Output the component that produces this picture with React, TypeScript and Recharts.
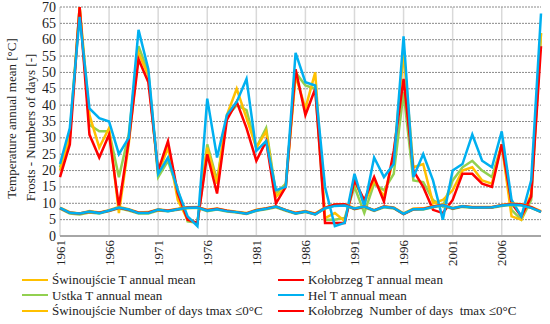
import React from 'react';
import { Line, LineChart, ReferenceLine, XAxis, YAxis } from 'recharts';

const years = [
  1961, 1962, 1963, 1964, 1965, 1966, 1967, 1968, 1969, 1970,
  1971, 1972, 1973, 1974, 1975, 1976, 1977, 1978, 1979, 1980,
  1981, 1982, 1983, 1984, 1985, 1986, 1987, 1988, 1989, 1990,
  1991, 1992, 1993, 1994, 1995, 1996, 1997, 1998, 1999, 2000,
  2001, 2002, 2003, 2004, 2005, 2006, 2007, 2008, 2009, 2010,
];

const tickYears = [1961, 1966, 1971, 1976, 1981, 1986, 1991, 1996, 2001, 2006];
const yTicks = [0, 5, 10, 15, 20, 25, 30, 35, 40, 45, 50, 55, 60, 65, 70];

// annual mean temperature
const swiT = [
  8.7, 7.3, 6.9, 7.6, 7.2, 7.9, 8.9, 8.2, 7.2, 7.3,
  8.2, 7.8, 8.3, 8.8, 8.9, 8.0, 8.4, 7.8, 7.4, 7.0,
  8.0, 8.5, 9.1, 8.0, 7.1, 7.6, 6.9, 8.7, 9.6, 9.7,
  8.5, 9.1, 7.9, 9.1, 8.7, 6.9, 8.4, 8.4, 9.1, 9.6,
  8.6, 9.2, 8.9, 8.9, 8.9, 9.5, 9.9, 9.7, 8.9, 7.6,
];
const kolT = [
  8.5, 7.1, 6.9, 7.4, 7.1, 7.7, 8.6, 8.0, 7.1, 7.2,
  8.0, 7.7, 8.2, 8.7, 8.8, 7.9, 8.3, 7.7, 7.3, 6.9,
  7.9, 8.4, 9.0, 7.9, 7.0, 7.5, 6.7, 8.6, 9.6, 9.7,
  8.3, 9.0, 7.8, 9.0, 8.6, 6.7, 8.2, 8.3, 9.0, 9.5,
  8.4, 9.1, 8.8, 8.8, 8.8, 9.4, 9.8, 9.6, 8.8, 7.4,
];
const ustT = [
  8.4, 6.9, 6.6, 7.2, 6.9, 7.6, 8.5, 7.8, 6.9, 6.9,
  7.8, 7.6, 8.0, 8.5, 8.6, 7.6, 8.1, 7.5, 7.2, 6.7,
  7.7, 8.2, 8.8, 7.7, 6.8, 7.3, 6.6, 8.4, 9.3, 9.4,
  8.2, 8.8, 7.7, 8.8, 8.4, 6.7, 8.1, 8.1, 8.8, 9.3,
  8.3, 8.9, 8.6, 8.6, 8.6, 9.2, 9.5, 9.4, 8.6, 7.3,
];
const helT = [
  8.6, 7.1, 6.9, 7.5, 7.0, 7.8, 8.7, 8.1, 7.0, 7.0,
  8.1, 7.6, 8.2, 8.6, 8.7, 7.7, 8.2, 7.6, 7.3, 6.8,
  7.8, 8.3, 9.0, 7.9, 6.9, 7.5, 6.6, 8.5, 9.2, 9.3,
  8.4, 9.0, 7.8, 8.9, 8.6, 6.8, 8.2, 8.2, 8.9, 9.4,
  8.5, 9.1, 8.7, 8.7, 8.8, 9.3, 9.6, 9.4, 8.6, 7.4,
];

// number of days with tmax <= 0 C
const swiFrost = [
  20, 30, 70, 37, 27, 33, 7, 28, 56, 49,
  19, 27, 11, 5, 4, 27, 16, 37, 45, 36,
  27, 32, 12, 15, 49, 39, 50, 5.5, 7, 4.5,
  17, 10, 17, 12, 24, 56, 21, 22, 10, 11,
  14, 20, 21, 17, 16, 28, 6, 5, 13, 62,
];
const kolFrost = [
  18, 28, 70, 31, 24, 31, 9, 29, 54, 47,
  20, 29, 13, 5, 4, 25, 13, 35.5, 41, 33,
  23, 29, 10, 15, 51, 37, 45, 4, 4, 4,
  17, 11, 18, 10.5, 26, 48, 20, 15, 8, 7,
  11, 19, 19, 16, 15, 28, 10, 6, 12, 58,
];
const ustFrost = [
  21, 31, 70, 34, 32, 32, 18, 31, 58, 50,
  18, 23, 14, 4.5, 4, 28, 17, 36.5, 40, 38.5,
  27, 33, 13, 16, 50, 46, 45, 5, 5, 5.5,
  15, 7, 16, 14, 19, 44, 17, 16.5, 11, 9,
  17, 21, 23, 20, 18, 28, 8, 5, 11, 62,
];
const helFrost = [
  22, 33, 67, 39, 36, 35, 25, 30, 63, 51,
  19, 24, 14, 6, 3, 42, 24, 37, 41, 48,
  26, 29, 14, 15, 56, 47, 46, 15, 3, 4,
  19, 9, 24, 18, 22, 61, 18, 25, 17, 5,
  20, 22, 31, 23, 21, 32, 11, 6, 17, 68,
];

const ORANGE = '#FFC000';
const RED = '#FF0000';
const GREEN = '#92D050';
const BLUE = '#00B0F0';

const data = years.map((year, i) => ({
  year,
  swiT: swiT[i],
  kolT: kolT[i],
  ustT: ustT[i],
  helT: helT[i],
  swiFrost: swiFrost[i],
  kolFrost: kolFrost[i],
  ustFrost: ustFrost[i],
  helFrost: helFrost[i],
}));

const series = [
  { key: 'ustFrost', color: GREEN },
  { key: 'swiFrost', color: ORANGE },
  { key: 'kolFrost', color: RED },
  { key: 'helFrost', color: BLUE },
  { key: 'ustT', color: GREEN },
  { key: 'swiT', color: ORANGE },
  { key: 'kolT', color: RED },
  { key: 'helT', color: BLUE },
];

const legendItems = [
  { name: 'Świnoujście T annual mean', color: ORANGE },
  { name: 'Kołobrzeg T annual mean', color: RED },
  { name: 'Ustka T annual mean', color: GREEN },
  { name: 'Hel T annual mean', color: BLUE },
  { name: 'Świnoujście Number of days tmax ≤0°C', color: ORANGE },
  { name: 'Kołobrzeg  Number of days  tmax ≤0°C', color: RED },
];

const FONT = 'Liberation Serif';

// year label under a vertical grid line
function XLabel({ viewBox, value }: any) {
  const x = viewBox.x;
  const y = viewBox.y + viewBox.height + 4;
  return (
    <text
      x={x}
      y={y}
      transform={`rotate(-90 ${x} ${y})`}
      textAnchor="end"
      dy={4.5}
      fill="#222"
      fontFamily={FONT}
      fontSize={13}
    >
      {value}
    </text>
  );
}

// value label left of a horizontal grid line
function YTickLabel({ viewBox, value }: any) {
  return (
    <text x={viewBox.x - 4} y={viewBox.y} dy={4.5} textAnchor="end" fill="#222" fontFamily={FONT} fontSize={14}>
      {value}
    </text>
  );
}

function YTitle({ viewBox }: any) {
  const cy = viewBox.y + viewBox.height / 2;
  return (
    <g fontFamily={FONT} fontSize={13} fill="#222">
      <text x={11} y={cy - 3} transform={`rotate(-90 11 ${cy - 3})`} textAnchor="middle" dominantBaseline="central">
        Temperature annual mean [°C]
      </text>
      <text x={30} y={cy + 6} transform={`rotate(-90 30 ${cy + 6})`} textAnchor="middle" dominantBaseline="central">
        Frosts - Numbers of days [-]
      </text>
    </g>
  );
}

function Legend6() {
  return (
    <div
      style={{
        position: 'absolute',
        left: 0,
        top: 272,
        width: 550,
        display: 'grid',
        gridTemplateColumns: '256px 294px',
        fontFamily: FONT,
        fontSize: 13,
        color: '#222',
        lineHeight: '15.5px',
      }}
    >
      {legendItems.map((item) => (
        <div key={item.name} style={{ display: 'flex', alignItems: 'center', paddingLeft: 22, whiteSpace: 'pre' }}>
          <span
            style={{ display: 'inline-block', flexShrink: 0, width: 26, height: 2, background: item.color, marginRight: 4 }}
          />
          <span>{item.name}</span>
        </div>
      ))}
    </div>
  );
}

export default function App() {
  return (
    <div style={{ position: 'absolute', left: 0, top: 0, width: 550, height: 324, background: '#fff' }}>
      <LineChart width={550} height={324} data={data} margin={{ top: 7, right: 9, left: 60, bottom: 88 }}>
        <XAxis dataKey="year" hide />
        <YAxis domain={[0, 70]} allowDataOverflow hide />
        {tickYears.map((yr) => (
          <ReferenceLine
            key={`vx-${yr}`}
            x={yr}
            stroke="#d9d9d9"
            strokeWidth={1.5}
            label={<XLabel value={yr} />}
          />
        ))}
        {yTicks.map((v) => (
          <ReferenceLine
            key={`hy-${v}`}
            y={v}
            stroke={v === 0 ? '#a6a6a6' : '#8a8a8a'}
            strokeWidth={v === 0 ? 2 : 1}
            strokeDasharray={v === 0 ? undefined : '2 1'}
            label={<YTickLabel value={v} />}
          />
        ))}
        <ReferenceLine x={1961} stroke="none" label={<YTitle />} />
        {series.map((s) => (
          <Line
            key={s.key}
            dataKey={s.key}
            stroke={s.color}
            strokeWidth={2.5}
            dot={false}
            activeDot={false}
            isAnimationActive={false}
          />
        ))}
      </LineChart>
      <Legend6 />
    </div>
  );
}
